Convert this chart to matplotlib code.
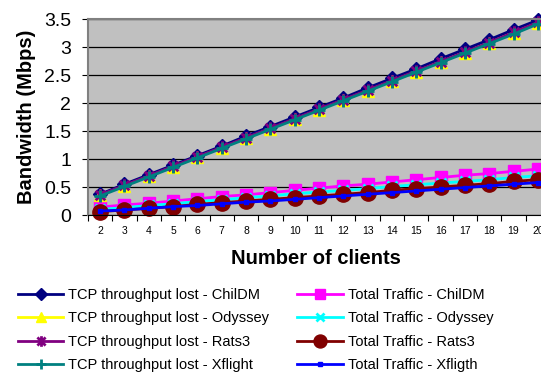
import numpy as np
import matplotlib
matplotlib.use("Agg")
import matplotlib.pyplot as plt
from matplotlib.path import Path

plt.rcParams['font.family'] = ['Liberation Sans', 'DejaVu Sans']

clients = list(range(2, 21))

tcp_childm = [0.37, 0.55, 0.72, 0.89, 1.06, 1.23, 1.41, 1.58, 1.75, 1.92,
              2.09, 2.27, 2.44, 2.61, 2.79, 2.96, 3.13, 3.31, 3.48]
tcp_odyssey = [0.35, 0.52, 0.69, 0.86, 1.03, 1.20, 1.37, 1.54, 1.71, 1.88,
               2.05, 2.22, 2.39, 2.56, 2.73, 2.90, 3.07, 3.25, 3.43]
tcp_rats3 = [0.36, 0.53, 0.70, 0.87, 1.04, 1.21, 1.38, 1.55, 1.72, 1.89,
             2.06, 2.23, 2.40, 2.57, 2.74, 2.91, 3.08, 3.26, 3.44]
tcp_xflight = [0.34, 0.51, 0.68, 0.85, 1.02, 1.19, 1.36, 1.53, 1.70, 1.87,
               2.04, 2.21, 2.38, 2.55, 2.72, 2.89, 3.06, 3.23, 3.41]

tot_childm = [0.14, 0.18, 0.21, 0.25, 0.29, 0.33, 0.36, 0.40, 0.44, 0.48,
              0.52, 0.55, 0.59, 0.63, 0.67, 0.71, 0.74, 0.78, 0.82]
tot_odyssey = [0.10, 0.13, 0.17, 0.20, 0.24, 0.27, 0.31, 0.34, 0.38, 0.41,
               0.44, 0.47, 0.51, 0.54, 0.57, 0.60, 0.63, 0.67, 0.70]
tot_rats3 = [0.06, 0.09, 0.12, 0.15, 0.19, 0.22, 0.25, 0.28, 0.31, 0.34,
             0.37, 0.40, 0.44, 0.47, 0.50, 0.53, 0.56, 0.60, 0.63]
tot_xfligth = [0.07, 0.09, 0.12, 0.15, 0.17, 0.20, 0.23, 0.25, 0.28, 0.31,
               0.34, 0.37, 0.40, 0.43, 0.46, 0.49, 0.52, 0.55, 0.58]

# excel style asterisk: an x with a vertical bar through it
star = Path([(-1, -1), (1, 1), (-1, 1), (1, -1), (0, -1.3), (0, 1.3)],
            [Path.MOVETO, Path.LINETO, Path.MOVETO, Path.LINETO,
             Path.MOVETO, Path.LINETO])

# drawn in workbook series order so later ones sit on top
series = [
    (tcp_childm, 'TCP throughput lost - ChilDM', '#000080', 'D', 7),
    (tot_childm, 'Total Traffic - ChilDM', '#FF00FF', 's', 8),
    (tcp_odyssey, 'TCP throughput lost - Odyssey', '#FFFF00', '^', 8),
    (tot_odyssey, 'Total Traffic - Odyssey', '#00FFFF', 'x', 7),
    (tcp_rats3, 'TCP throughput lost - Rats3', '#800080', star, 9),
    (tot_rats3, 'Total Traffic - Rats3', '#800000', 'o', 11),
    (tcp_xflight, 'TCP throughput lost - Xflight', '#008080', '+', 9),
    (tot_xfligth, 'Total Traffic - Xfligth', '#0000FF', 's', 3.5),
]

fig = plt.figure(figsize=(5.41, 3.73), dpi=100)
ax = fig.add_axes([88 / 541, 1 - 215 / 373, 462 / 541, 196 / 373])
ax.set_facecolor('#C0C0C0')

lines = {}
for vals, label, color, marker, ms in series:
    ln, = ax.plot(clients, vals, color=color, marker=marker, markersize=ms,
                  markerfacecolor=color, markeredgecolor=color,
                  markeredgewidth=2 if marker in ('x', '+') or marker is star else 1,
                  linewidth=2, label=label, clip_on=False)
    lines[label] = ln

ax.set_xlim(1.5, 20.5)
ax.set_ylim(0, 3.5)
ax.set_yticks(np.arange(0, 3.51, 0.5))
ax.set_yticklabels(['0', '0.5', '1', '1.5', '2', '2.5', '3', '3.5'])
ax.yaxis.grid(True, color='black', linewidth=0.9)
ax.set_axisbelow(True)

# tick marks between categories, labels on the categories
ax.set_xticks(np.arange(1.5, 20.6, 1))
ax.set_xticklabels([])
ax.set_xticks(clients, minor=True)
ax.set_xticklabels([str(c) for c in clients], minor=True, fontsize=7.5)
ax.tick_params(axis='x', which='major', length=4, direction='out', color='black')
ax.tick_params(axis='x', which='minor', length=0, pad=8)
ax.tick_params(axis='y', length=4, direction='out', labelsize=14, pad=8)

for s in ('top', 'left'):
    ax.spines[s].set_color('#808080')
    ax.spines[s].set_linewidth(1.5)
ax.spines['bottom'].set_color('black')
ax.spines['right'].set_visible(False)

ax.set_ylabel('Bandwidth (Mbps)', fontsize=14.5, fontweight='bold', labelpad=6)
fig.text(316 / 541, 1 - 258 / 373, 'Number of clients', fontsize=14.5,
         fontweight='bold', ha='center', va='center')

order = ['TCP throughput lost - ChilDM', 'TCP throughput lost - Odyssey',
         'TCP throughput lost - Rats3', 'TCP throughput lost - Xflight',
         'Total Traffic - ChilDM', 'Total Traffic - Odyssey',
         'Total Traffic - Rats3', 'Total Traffic - Xfligth']
fig.legend([lines[k] for k in order], order, ncol=2, frameon=False,
           loc='upper left', bbox_to_anchor=(0.009, 0.263), fontsize=10.5,
           handlelength=3.1, handletextpad=0.35, columnspacing=1.93,
           labelspacing=0.64, markerscale=0.85)

fig.savefig('out.png', dpi=100)
